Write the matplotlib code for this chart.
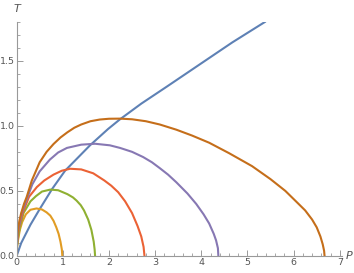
import matplotlib
matplotlib.use("Agg")
import matplotlib.pyplot as plt
from matplotlib.ticker import MultipleLocator, FormatStrFormatter

# values
blue_p = [0, 0.1, 0.3, 0.5, 0.77, 1.05, 1.59, 1.98, 2.24, 2.7, 3.25, 3.96, 4.67, 5.39]
blue_t = [0, 0.1, 0.24, 0.36, 0.515, 0.655, 0.85, 0.975, 1.05, 1.17, 1.30, 1.47, 1.64, 1.80]

orange_p = [0, 0.005, 0.02, 0.045, 0.07, 0.12, 0.2, 0.3, 0.43, 0.55, 0.65, 0.73, 0.8, 0.86, 0.91, 0.95, 0.98, 0.99]
orange_t = [0, 0.05, 0.1, 0.15, 0.2, 0.26, 0.32, 0.355, 0.365, 0.357, 0.335, 0.31, 0.27, 0.22, 0.17, 0.11, 0.05, 0]

green_p = [0, 0.005, 0.01, 0.035, 0.07, 0.15, 0.3, 0.42, 0.55, 0.73, 0.9, 1.1, 1.22, 1.3, 1.39, 1.46, 1.55, 1.62, 1.67,
           1.69, 1.7]
green_t = [0, 0.05, 0.08, 0.15, 0.22, 0.33, 0.42, 0.46, 0.495, 0.51, 0.505, 0.475, 0.45, 0.425, 0.39, 0.35, 0.28, 0.2,
           0.11, 0.05, 0]

red_p = [0, 0.005, 0.01, 0.04, 0.13, 0.27, 0.44, 0.6, 0.8, 0.98, 1.16, 1.4, 1.66, 1.9, 2.05, 2.2, 2.35, 2.5, 2.62, 2.7,
         2.75, 2.77]
red_t = [0, 0.05, 0.1, 0.2, 0.33, 0.455, 0.53, 0.58, 0.625, 0.655, 0.67, 0.665, 0.635, 0.58, 0.54, 0.49, 0.42, 0.33, 0.23,
         0.15, 0.07, 0]

purple_p = [0, 0.005, 0.01, 0.035, 0.11, 0.24, 0.34, 0.5, 0.72, 0.9, 1.09, 1.4, 1.7, 2.02, 2.24, 2.5, 2.74, 2.93, 3.1,
            3.28, 3.46, 3.7, 3.89, 4.05, 4.17, 4.27, 4.32, 4.36, 4.37]
purple_t = [0, 0.05, 0.1, 0.2, 0.33, 0.455, 0.55, 0.65, 0.74, 0.795, 0.83, 0.855, 0.862, 0.85, 0.83, 0.8, 0.76, 0.72,
            0.675, 0.625, 0.566, 0.48, 0.40, 0.32, 0.25, 0.17, 0.12, 0.06, 0]

brown_p = [0, 0.005, 0.01, 0.03, 0.06, 0.1, 0.16, 0.22, 0.33, 0.5, 0.65, 0.8, 0.95, 1.1, 1.25, 1.4, 1.6, 1.8, 2.0, 2.24,
           2.5, 2.8, 3.1, 3.46, 3.8, 4.17, 4.6, 5.1, 5.5, 5.82, 6.05, 6.25, 6.4, 6.5, 6.58, 6.63, 6.66, 6.67]
brown_t = [0, 0.05, 0.1, 0.2, 0.27, 0.33, 0.4, 0.455, 0.58, 0.72, 0.8, 0.86, 0.91, 0.95, 0.985, 1.01, 1.035, 1.048,
           1.054, 1.055, 1.05, 1.035, 1.01, 0.97, 0.925, 0.87, 0.79, 0.69, 0.59, 0.5, 0.42, 0.35, 0.28, 0.22, 0.15,
           0.09, 0.04, 0]

colors = ['#5E81B5', '#E19C24', '#8FB032', '#EB6235', '#8778B3', '#C56E1A']
gray = '#999999'

fig = plt.figure(figsize=(3.54, 2.73), dpi=100)
ax = fig.add_axes([0.0469, 0.0623, 0.9195, 0.8585])

curves = [(blue_p, blue_t), (orange_p, orange_t), (green_p, green_t),
          (red_p, red_t), (purple_p, purple_t), (brown_p, brown_t)]
for (p, t), c in zip(curves, colors):
    ax.plot(p, t, color=c, linewidth=1.5, solid_joinstyle='round', solid_capstyle='round')

ax.set_xlim(0, 7.05)
ax.set_ylim(0, 1.8)

for s in ['top', 'right']:
    ax.spines[s].set_visible(False)
for s in ['left', 'bottom']:
    ax.spines[s].set_color(gray)
    ax.spines[s].set_linewidth(0.8)

ax.xaxis.set_major_locator(MultipleLocator(1))
ax.xaxis.set_minor_locator(MultipleLocator(0.2))
ax.yaxis.set_major_locator(MultipleLocator(0.5))
ax.yaxis.set_minor_locator(MultipleLocator(0.1))
ax.yaxis.set_major_formatter(FormatStrFormatter('%.1f'))
ax.tick_params(which='major', direction='in', length=4, width=0.7, color=gray,
               labelsize=6.8, labelcolor='#555555', pad=1.5)
ax.tick_params(which='minor', direction='in', length=2, width=0.6, color=gray)

ax.text(7.13, 0, 'P', style='italic', fontsize=8, color='#555555', ha='left', va='center', clip_on=False)
ax.text(0, 1.86, 'T', style='italic', fontsize=8, color='#555555', ha='center', va='bottom', clip_on=False)

fig.savefig('out.png', dpi=100)
